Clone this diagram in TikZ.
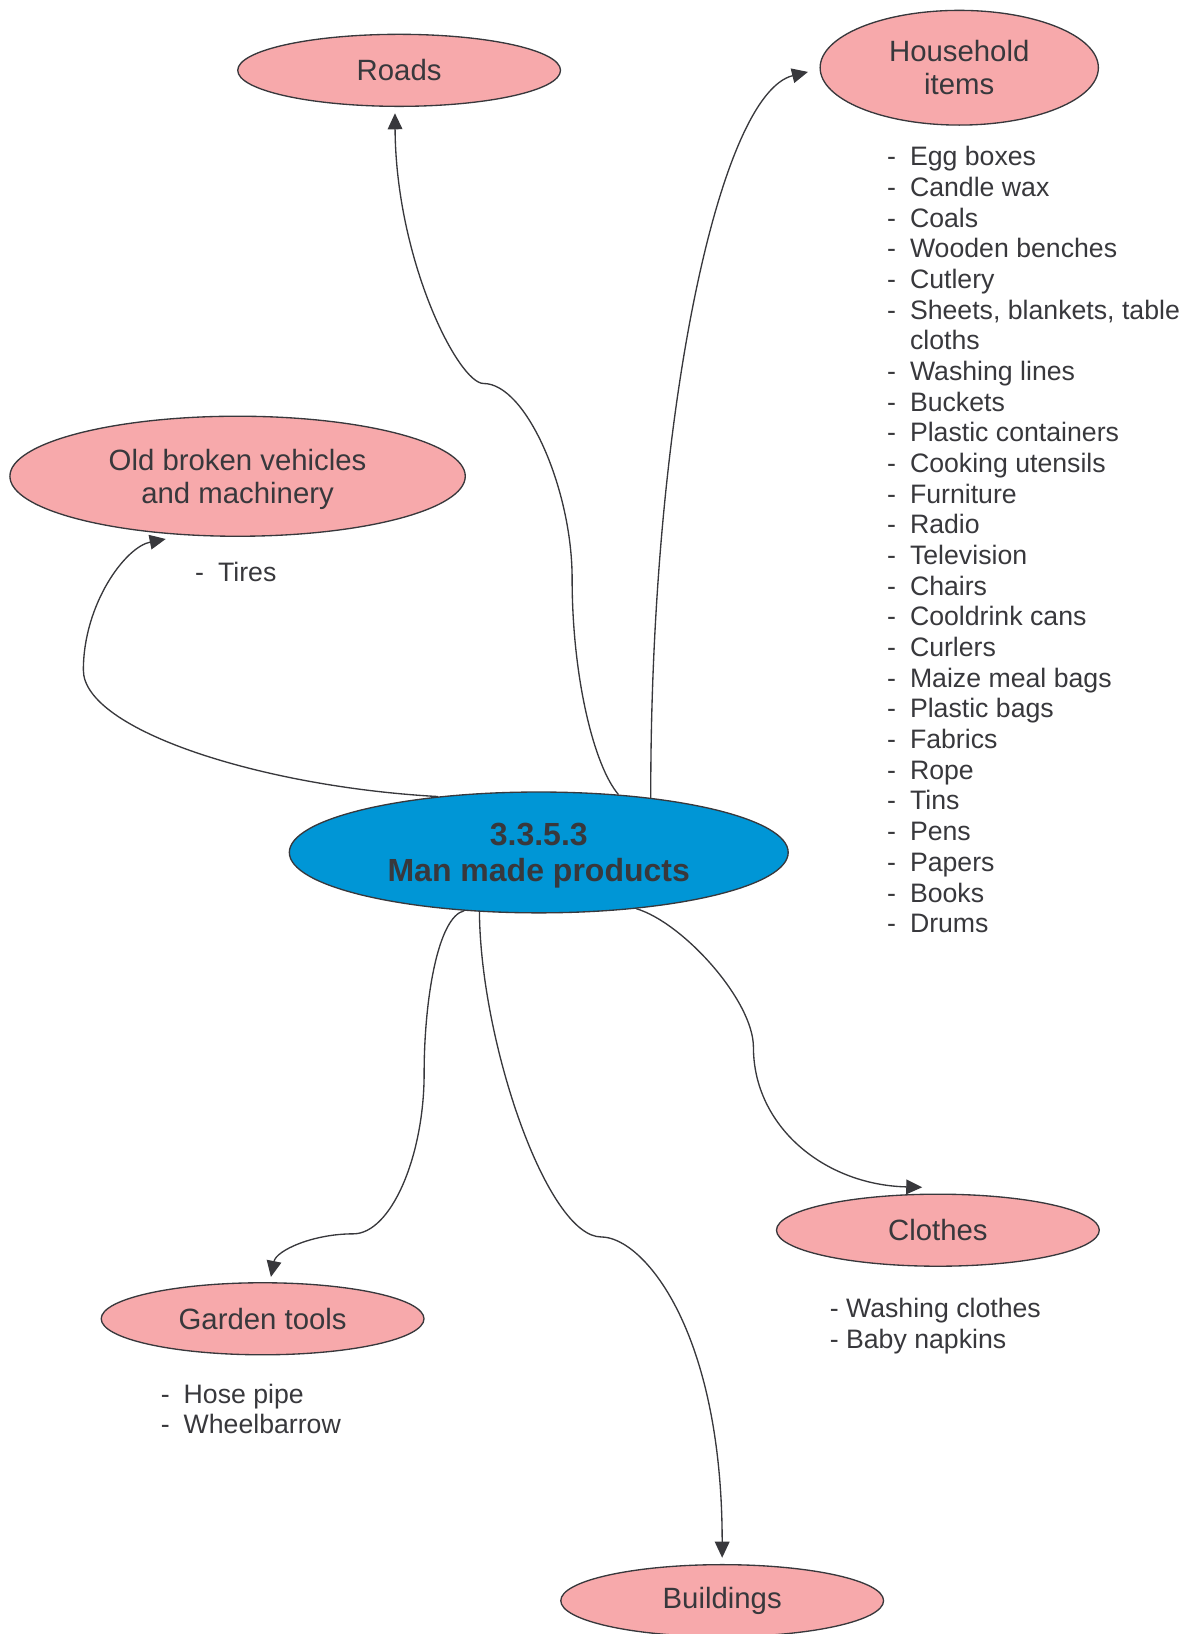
\documentclass[tikz,border=0pt]{standalone}
\usepackage{fontspec}
\setmainfont{Liberation Sans}
\usetikzlibrary{positioning,arrows.meta,shapes.geometric,calc}
\definecolor{pinkc}{HTML}{F7A9AB}
\definecolor{hubc}{HTML}{0096D6}
\definecolor{inkc}{HTML}{38383C}
\newcommand{\dsh}{\makebox[17.2pt][l]{-}}
\newcommand{\nodsh}{\makebox[17.2pt][l]{}}
\tikzset{
  topic/.style={ellipse, draw=inkc, fill=pinkc, line width=1pt, inner sep=0pt,
                align=center, text=inkc, font=\fontsize{22}{25}\selectfont,
                minimum width=242pt, minimum height=54pt},
  hubnode/.style={topic, fill=hubc, font=\fontsize{24}{27.3}\selectfont\bfseries,
                text depth=0pt, minimum width=374pt, minimum height=90.6pt},
  items/.style={align=left, inner sep=0pt, anchor=base west, text=inkc,
                font=\fontsize{20}{23}\selectfont},
  arr/.style={-{Triangle[length=12pt, width=11pt]}, line width=1pt, draw=inkc},
}
\begin{document}
\begin{tikzpicture}[x=0.7813pt, y=-0.7813pt]
  \useasboundingbox (0,0) rectangle (1149,1568);

  % topics
  \node[hubnode] (hub) at (517,818) {3.3.5.3\\Man made products};
  \node[topic] (roads) at (383,67.5) {Roads};
  \node[topic, minimum width=208.6pt, minimum height=86pt] (house) at (920.5,65) {Household\\items};
  \node[topic, minimum width=341.4pt, minimum height=90pt, text depth=0pt] (old) at (228,457) {Old broken vehicles\\and machinery};
  \node[topic] (clothes) at (900,1180.5) {Clothes};
  \node[topic] (garden) at (252,1265.5) {Garden tools};
  \node[topic] (bldg) at (693,1536) {Buildings};

  % item lists (anchored on the baseline of the last line)
  \node[items] (houselist) at (851,895) {\dsh Egg boxes\\ \dsh Candle wax\\ \dsh Coals\\
    \dsh Wooden benches\\ \dsh Cutlery\\ \dsh Sheets, blankets, table\\ \nodsh cloths\\
    \dsh Washing lines\\ \dsh Buckets\\ \dsh Plastic containers\\ \dsh Cooking utensils\\
    \dsh Furniture\\ \dsh Radio\\ \dsh Television\\ \dsh Chairs\\ \dsh Cooldrink cans\\
    \dsh Curlers\\ \dsh Maize meal bags\\ \dsh Plastic bags\\ \dsh Fabrics\\ \dsh Rope\\
    \dsh Tins\\ \dsh Pens\\ \dsh Papers\\ \dsh Books\\ \dsh Drums};
  \node[items] (oldlist) at (187,558) {\dsh Tires};
  \node[items] (gardenlist) at (154,1376) {\dsh Hose pipe\\ \dsh Wheelbarrow};
  \node[items] (clotheslist) at (796,1294) {- Washing clothes\\- Baby napkins};

  % connectors
  \draw[arr] (hub.36) .. controls (570,735) and (549,650) .. (549,555)
     .. controls (549,470) and (505,368) .. (464,368)
     .. controls (440,368) and (380,250) .. ($(roads.south)+(-4,6)$);
  \draw[arr] (hub.26) .. controls (624,400) and (690,90) .. ($(house.west)+(-11,4)$);
  \draw[arr] (hub.151) .. controls (250,755) and (80,700) .. (80,643)
     .. controls (80,580) and (120,525) .. ($(old.south)+(-69,2)$);
  \draw[arr] (hub.330) .. controls (655,885) and (723,960) .. (723,1005)
     .. controls (723,1080) and (790,1137) .. ($(clothes.north)+(-15,-6)$);
  \draw[arr] (hub.218) .. controls (420,880) and (407,960) .. (407,1030)
     .. controls (407,1110) and (375,1184) .. (339,1184)
     .. controls (300,1184) and (265,1200) .. ($(garden.north)+(8,-5)$);
  \draw[arr] (hub.225) .. controls (461,1000) and (525,1187) .. (577,1187)
     .. controls (617,1187) and (693,1276) .. ($(bldg.north)+(0,-6)$);
\end{tikzpicture}
\end{document}
